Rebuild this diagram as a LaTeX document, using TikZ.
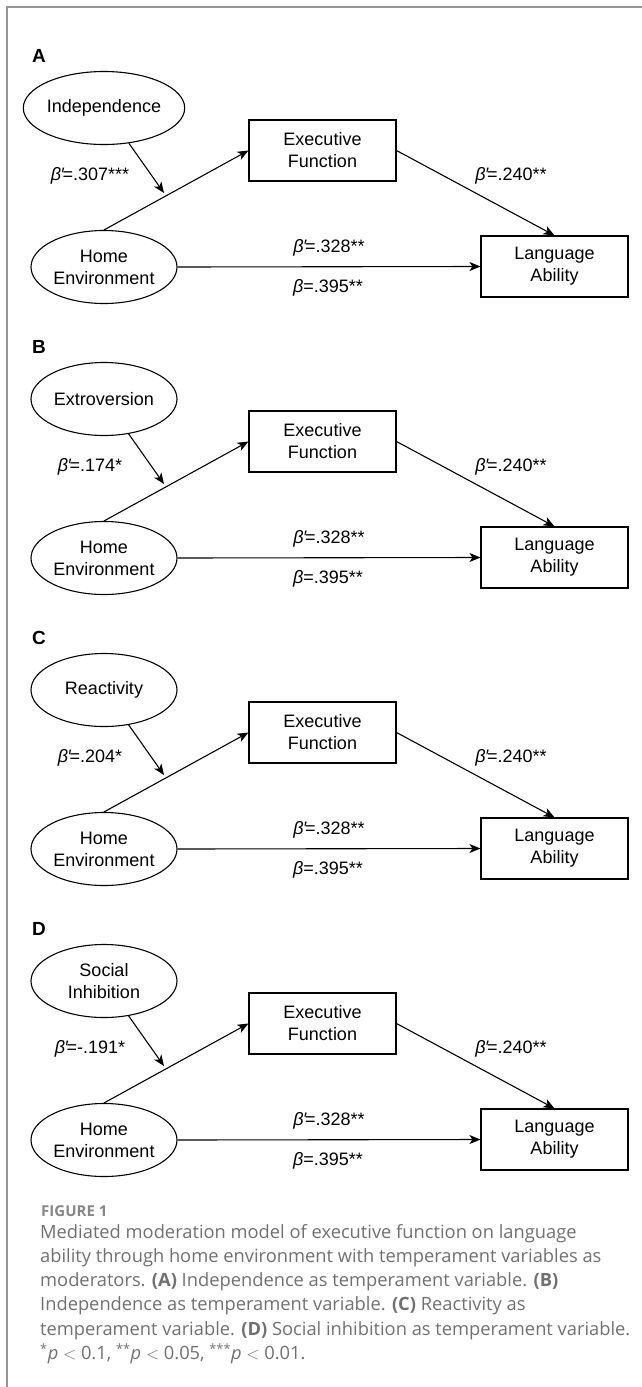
\documentclass[tikz,border=0pt]{standalone}
\usepackage{fontspec}
\setmainfont{Liberation Sans}
\newfontfamily\capfont{Open Sans}
\usetikzlibrary{shapes.geometric, arrows.meta, positioning}
\definecolor{framegray}{RGB}{150,150,150}
\definecolor{capgray}{RGB}{112,112,112}
\definecolor{figgray}{RGB}{135,135,135}

\newcommand{\bprime}{\textit{β}\kern0.2pt′\kern-2.2pt=}
\newcommand{\bplain}{\textit{β}=}

\tikzset{
  latent/.style={draw, line width=1.1pt, ellipse, minimum width=146pt, minimum height=73pt,
    inner sep=0pt, align=center, font=\fontsize{18}{22}\selectfont},
  observed/.style={draw, line width=1.1pt, rectangle, minimum width=147pt, minimum height=61pt,
    inner sep=0pt, align=center, font=\fontsize{18}{22}\selectfont},
  link/.style={line width=1.1pt, -{Stealth[length=11pt, width=9pt, inset=3pt]}},
  coef/.style={font=\fontsize{18}{22}\selectfont, inner sep=1pt},
  panel/.style={font=\bfseries\fontsize{19}{22}\selectfont, anchor=base west, inner sep=0pt},
  caption/.style={font=\capfont\fontsize{18.3}{24}\selectfont, text=capgray, anchor=base west, inner sep=0pt},
}

\begin{document}
\begin{tikzpicture}[x=1pt, y=-1pt]
  \useasboundingbox (0,0) rectangle (642,1387);

  % frame
  \draw[framegray, line width=1.5pt] (7,1387) -- (7,7) -- (642,7);

  % four panels, 291 apart
  \foreach \p/\L/\modtxt/\bmod in {0/A/Independence/{.307***}, 1/B/Extroversion/{.174*},
      2/C/Reactivity/{.204*}, 3/D/{Social\\Inhibition}/{-.191*}} {
    \pgfmathsetmacro\dy{291*\p}
    \begin{scope}[shift={(0,\dy)}]
      \node[panel] (lab\L) at (32,62) {\L};

      \node[latent] (mod\L) at (104,108) {\modtxt};
      \node[latent] (home\L) at (104,267) {Home\\Environment};
      \node[observed] (exec\L) at (322.5,150.5) {Executive\\Function};
      \node[observed] (lang\L) at (554.5,266.5) {Language\\Ability};
      \coordinate (tip\L) at (164,193);

      \draw[link] (home\L.north) -- (exec\L.west);
      \draw[link] (exec\L.east) -- (lang\L.north);
      \draw[link] (home\L.east) -- (lang\L.west);
      \draw[link] (mod\L) -- (tip\L);

      % coefficients
      \node[coef] (bm\L) at (90,176) {\bprime\bmod};
      \node[coef] (bb\L) at (511,176) {\bprime.240**};
      \node[coef] (bc\L) at (329,248) {\bprime.328**};
      \node[coef] (bt\L) at (328,288) {\bplain.395**};
    \end{scope}
  }

  % caption
  \node[caption, font=\capfont\bfseries\fontsize{15}{18}\selectfont, text=figgray] (fig) at (41,1216.5) {FIGURE 1};
  \foreach \k/\txt in {
      0/{Mediated moderation model of executive function on language},
      1/{ability through home environment with temperament variables as},
      2/{moderators. \textbf{(A)} Independence as temperament variable. \textbf{(B)}},
      3/{Independence as temperament variable. \textbf{(C)} Reactivity as},
      4/{temperament variable. \textbf{(D)} Social inhibition as temperament variable.},
      5/{\textsuperscript{*}\textit{p} $<$ 0.1, \textsuperscript{**}\textit{p} $<$ 0.05, \textsuperscript{***}\textit{p} $<$ 0.01.}} {
    \node[caption] (cap\k) at (40,{1238+24.3*\k}) {\txt};
  }
\end{tikzpicture}
\end{document}
